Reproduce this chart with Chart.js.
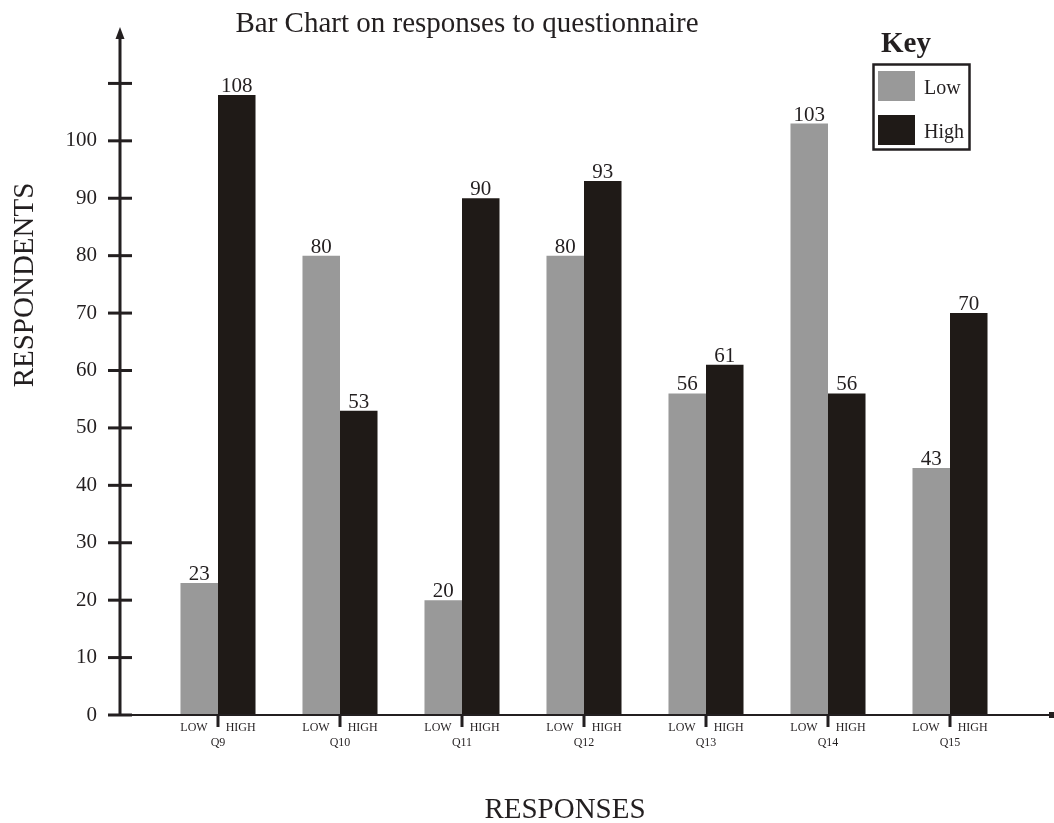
<!DOCTYPE html>
<html>
<head>
<meta charset="utf-8">
<script src="https://cdn.jsdelivr.net/npm/chart.js@4.4.1/dist/chart.umd.min.js"></script>
<style>
  html, body { margin: 0; padding: 0; background: #ffffff; }
  #wrap { width: 1054px; height: 823px; }
</style>
</head>
<body>
<div id="wrap"><canvas id="c" width="1054" height="823"></canvas></div>
<script>
// ---- data ----
const categories = ['Q9', 'Q10', 'Q11', 'Q12', 'Q13', 'Q14', 'Q15'];
const lowValues  = [23, 80, 20, 80, 56, 103, 43];
const highValues = [108, 53, 90, 93, 61, 56, 70];
const seriesNames = ['Low', 'High'];
const pairLabel = 'LOW      HIGH';
const yLabelMax = 100;
const yTickMarkMax = 110;
const chartTitle = 'Bar Chart on responses to questionnaire';
const yTitle = 'RESPONDENTS';
const xTitle = 'RESPONSES';
const legendTitle = 'Key';

const INK = '#231f20';
const GRAY = '#999999';
const DARK = '#1f1a17';
const SERIF = '"Liberation Serif", "Times New Roman", serif';

const decor = {
  id: 'decor',
  afterDatasetsDraw(chart) {
    const ctx = chart.ctx;
    const xs = chart.scales.x, ys = chart.scales.y;
    const axisX = 120;
    const y0 = ys.getPixelForValue(0);
    ctx.save();
    ctx.fillStyle = INK;
    ctx.strokeStyle = INK;

    // y axis line + arrow
    ctx.lineWidth = 3;
    ctx.beginPath();
    ctx.moveTo(axisX, y0);
    ctx.lineTo(axisX, 36);
    ctx.stroke();
    ctx.beginPath();
    ctx.moveTo(axisX, 27);
    ctx.lineTo(axisX - 4.5, 39);
    ctx.lineTo(axisX + 4.5, 39);
    ctx.closePath();
    ctx.fill();

    // y tick marks
    for (let v = 0; v <= yTickMarkMax; v += 10) {
      const py = ys.getPixelForValue(v);
      ctx.fillRect(108, py - 1.5, 24, 3);
    }

    // x axis line
    ctx.lineWidth = 2;
    ctx.beginPath();
    ctx.moveTo(axisX, y0);
    ctx.lineTo(1050, y0);
    ctx.stroke();
    ctx.fillRect(1049, y0 - 3, 6, 6);

    // category divider ticks
    categories.forEach((c, i) => {
      const px = xs.getPixelForValue(i);
      ctx.fillRect(px - 1.5, y0, 3, 12);
    });

    // value labels
    ctx.font = '21px ' + SERIF;
    ctx.textAlign = 'center';
    ctx.textBaseline = 'alphabetic';
    chart.data.datasets.forEach((ds, di) => {
      const meta = chart.getDatasetMeta(di);
      meta.data.forEach((bar, i) => {
        ctx.fillText(String(ds.data[i]), bar.x, bar.y - 3);
      });
    });

    // title
    ctx.font = '29px ' + SERIF;
    ctx.textAlign = 'center';
    ctx.fillText(chartTitle, 467, 32);

    // x title
    ctx.font = '29px ' + SERIF;
    ctx.fillText(xTitle, 565, 818);

    // y title
    ctx.save();
    ctx.translate(33, 285);
    ctx.rotate(-Math.PI / 2);
    ctx.textAlign = 'center';
    ctx.fillText(yTitle, 0, 0);
    ctx.restore();

    // legend
    ctx.font = 'bold 29px ' + SERIF;
    ctx.textAlign = 'left';
    ctx.fillText(legendTitle, 881, 52);
    ctx.lineWidth = 2.5;
    ctx.strokeRect(873.5, 64.5, 96, 85);
    ctx.font = '20px ' + SERIF;
    chart.data.datasets.forEach((ds, di) => {
      const top = 71 + di * 44;
      ctx.fillStyle = ds.backgroundColor;
      ctx.fillRect(878, top, 37, 30);
      ctx.fillStyle = INK;
      ctx.fillText(ds.label, 924, top + 23);
    });

    ctx.restore();
  }
};

new Chart(document.getElementById('c'), {
  type: 'bar',
  data: {
    labels: categories,
    datasets: [
      { label: seriesNames[0], data: lowValues, backgroundColor: GRAY, borderWidth: 0 },
      { label: seriesNames[1], data: highValues, backgroundColor: DARK, borderWidth: 0 }
    ]
  },
  options: {
    responsive: false,
    animation: false,
    devicePixelRatio: 1,
    layout: { padding: { left: 0, right: 43, top: 26, bottom: 0 } },
    datasets: { bar: { categoryPercentage: 0.615, barPercentage: 1.0 } },
    plugins: {
      legend: { display: false },
      title: { display: false },
      tooltip: { enabled: false }
    },
    scales: {
      x: {
        grid: { display: false, drawTicks: false },
        border: { display: false },
        afterFit(scale) { scale.height = 108; scale.paddingLeft = 0; scale.paddingRight = 0; },
        ticks: {
          autoSkip: false,
          maxRotation: 0,
          padding: 5,
          color: INK,
          font: { family: SERIF, size: 12, lineHeight: 1.25 },
          callback(value, index) { return [pairLabel, categories[index]]; }
        }
      },
      y: {
        min: 0,
        max: 120,
        grid: { display: false, drawTicks: false },
        border: { display: false },
        afterFit(scale) { scale.width = 157; scale.paddingTop = 0; scale.paddingBottom = 0; },
        ticks: {
          stepSize: 10,
          autoSkip: false,
          padding: 60,
          color: INK,
          font: { family: SERIF, size: 21 },
          callback(value) { return value <= yLabelMax ? String(value) : ''; }
        }
      }
    }
  },
  plugins: [decor]
});
</script>
</body>
</html>
